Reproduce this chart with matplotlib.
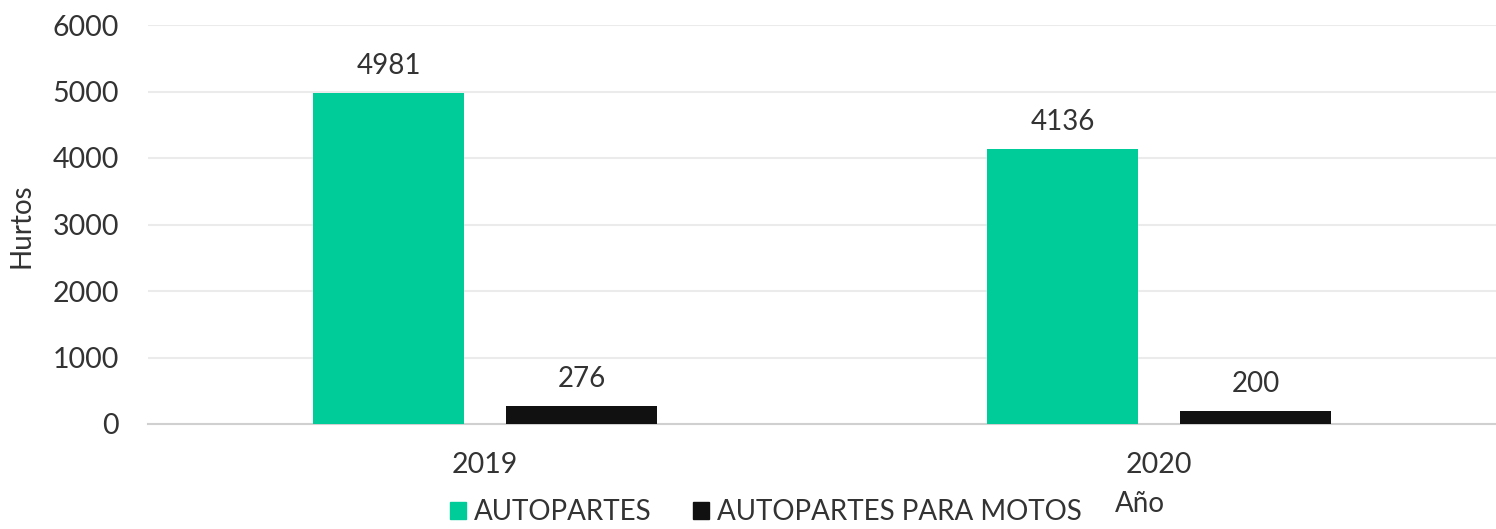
import matplotlib
matplotlib.use("Agg")
import matplotlib.pyplot as plt
import numpy as np
from matplotlib.patches import Patch

years = ["2019", "2020"]
autopartes = [4981, 4136]
motos = [276, 200]
series_names = ["AUTOPARTES", "AUTOPARTES PARA MOTOS"]
colors = ["#00CC99", "#111111"]
yticks = [0, 1000, 2000, 3000, 4000, 5000, 6000]

plt.rcParams['font.family'] = ['Lato', 'DejaVu Sans']
TXT = "#333333"
FW = "normal"

fig = plt.figure(figsize=(14.96, 5.29), dpi=100)
ax = fig.add_axes([148/1496, 1-424/529, 1-148/1496, (424-25)/529])

x = np.arange(len(years))
w = 0.224
off = 0.143
b1 = ax.bar(x - off, autopartes, w, color=colors[0], zorder=3)
b2 = ax.bar(x + off, motos, w, color=colors[1], zorder=3)

for bars, vals in ((b1, autopartes), (b2, motos)):
    for r, v in zip(bars, vals):
        ax.annotate(str(v), (r.get_x() + r.get_width()/2, v), xytext=(0, 10),
                    textcoords="offset points", ha="center", va="bottom",
                    fontsize=20, fontweight=FW, color=TXT)

ax.set_xlim(-0.5, 1.5)
ax.set_ylim(0, 6000)
ax.set_yticks(yticks)
ax.set_yticklabels([str(t) for t in yticks], fontsize=20.5, fontweight=FW, color=TXT)
ax.set_xticks(x)
ax.set_xticklabels(years, fontsize=20.5, fontweight=FW, color=TXT)
ax.tick_params(axis="both", length=0)
ax.tick_params(axis="x", pad=20)
ax.tick_params(axis="y", pad=21)
ax.grid(axis="y", color="#ebebeb", linewidth=1.5, zorder=0)
for s in ["top", "right", "left"]:
    ax.spines[s].set_visible(False)
ax.spines["bottom"].set_color("#d0d0d0")
ax.spines["bottom"].set_linewidth(1.5)

fig.text(22/1496, 1-226/529, "Hurtos", rotation=90, ha="center", va="center",
         fontsize=20, fontweight=FW, color=TXT)
fig.text(1140/1496, 1-504/529, "Año", ha="center", va="center",
         fontsize=20, fontweight=FW, color=TXT)

handles = [Patch(color=c) for c in colors]
fig.legend(handles, series_names, loc="center", bbox_to_anchor=(766/1496, 1-512/529),
           ncol=2, frameon=False, handlelength=0.55, handleheight=0.55,
           handletextpad=0.3, columnspacing=1.5, labelcolor=TXT,
           prop={'size': 20, 'weight': FW})

fig.savefig("out.png", dpi=100)
